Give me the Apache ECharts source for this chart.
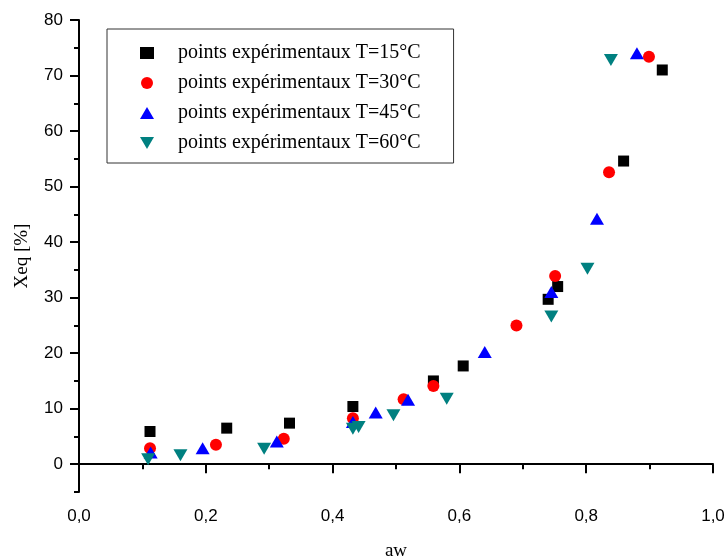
<!DOCTYPE html>
<html>
<head>
<meta charset="utf-8">
<script src="https://cdn.jsdelivr.net/npm/echarts@6/dist/echarts.min.js"></script>
<style>
html,body{margin:0;padding:0;background:#fff}
#chart{width:727px;height:558px}
</style>
</head>
<body>
<div id="chart"></div>
<script>
// valeurs
var aw15  = [0.112, 0.233, 0.332, 0.432, 0.559, 0.606, 0.740, 0.755, 0.859, 0.920];
var xeq15 = [5.9, 6.5, 7.4, 10.4, 15.0, 17.7, 29.7, 32.0, 54.6, 71.0];
var aw30  = [0.112, 0.216, 0.323, 0.432, 0.512, 0.559, 0.690, 0.751, 0.836, 0.899];
var xeq30 = [2.9, 3.5, 4.6, 8.3, 11.7, 14.1, 25.0, 33.9, 52.6, 73.4];
var aw45  = [0.113, 0.195, 0.312, 0.432, 0.468, 0.519, 0.640, 0.745, 0.817, 0.880];
var xeq45 = [2.1, 2.9, 4.1, 7.6, 9.3, 11.6, 20.2, 31.0, 44.2, 74.0];
var aw60  = [0.109, 0.160, 0.292, 0.432, 0.441, 0.496, 0.580, 0.745, 0.802, 0.839];
var xeq60 = [0.9, 1.6, 2.8, 6.4, 6.7, 8.8, 11.8, 26.6, 35.2, 72.8];

var seriesNames = ['points expérimentaux T=15°C', 'points expérimentaux T=30°C',
                   'points expérimentaux T=45°C', 'points expérimentaux T=60°C'];
var yTicks = [0, 10, 20, 30, 40, 50, 60, 70, 80];

function pairs(xs, ys) {
  return xs.map(function (x, i) { return [x, ys[i]]; });
}

// triangle pointe en bas (aussi pour la légende)
var downTri = 'path://M0,0 L14,0 L7,12 Z';

var chart = echarts.init(document.getElementById('chart'));
var axisCol = '#000';
chart.setOption({
  animation: false,
  backgroundColor: '#fff',
  grid: { left: 79, right: 14, top: 20, bottom: 66, containLabel: false, outerBoundsMode: 'none' },
  legend: {
    orient: 'vertical',
    left: 107,
    top: 29,
    padding: [14, 33, 10, 33],
    itemWidth: 14,
    itemHeight: 12,
    itemGap: 10,
    borderColor: '#333',
    borderWidth: 1,
    textStyle: {
      fontFamily: 'Liberation Serif',
      fontSize: 20,
      color: '#000',
      padding: [0, 0, 0, 19]
    },
    data: seriesNames
  },
  xAxis: {
    type: 'value',
    min: 0, max: 1, interval: 0.2,
    name: 'aw',
    nameLocation: 'middle',
    nameGap: 50,
    nameTextStyle: { fontFamily: 'Liberation Serif', fontSize: 19, color: '#000' },
    axisLine: { lineStyle: { color: axisCol, width: 2 } },
    axisTick: { length: 9, lineStyle: { color: axisCol, width: 2 } },
    minorTick: { show: true, splitNumber: 2, length: 5, lineStyle: { color: axisCol, width: 2 } },
    splitLine: { show: false },
    axisLabel: {
      margin: 16,
      fontFamily: 'Liberation Sans', fontSize: 17, color: '#000',
      formatter: function (v) { return v.toFixed(1).replace('.', ','); }
    }
  },
  yAxis: [{
    type: 'value',
    min: -5, max: 80,
    name: 'Xeq [%]',
    nameLocation: 'middle',
    nameRotate: 90,
    nameGap: 47,
    nameTextStyle: { fontFamily: 'Liberation Serif', fontSize: 19, color: '#000' },
    axisLine: { lineStyle: { color: axisCol, width: 2 } },
    axisTick: { customValues: yTicks, length: 9, lineStyle: { color: axisCol, width: 2 } },
    splitLine: { show: false },
    axisLabel: {
      customValues: yTicks,
      margin: 16,
      fontFamily: 'Liberation Sans', fontSize: 17, color: '#000'
    }
  }, {
    // petites graduations tous les 5
    type: 'value',
    position: 'left',
    min: -5, max: 80, interval: 5,
    axisLine: { show: false },
    axisTick: { length: 5, lineStyle: { color: axisCol, width: 2 } },
    axisLabel: { show: false },
    splitLine: { show: false }
  }],
  series: [
    { name: seriesNames[0], type: 'scatter', symbol: 'rect', symbolSize: 11,
      itemStyle: { color: '#000', opacity: 1 }, data: pairs(aw15, xeq15) },
    { name: seriesNames[1], type: 'scatter', symbol: 'circle', symbolSize: 12,
      itemStyle: { color: '#ff0000', opacity: 1 }, data: pairs(aw30, xeq30) },
    { name: seriesNames[2], type: 'scatter', symbol: 'triangle', symbolSize: [14, 12],
      itemStyle: { color: '#0000ff', opacity: 1 }, data: pairs(aw45, xeq45) },
    { name: seriesNames[3], type: 'scatter', symbol: downTri, symbolSize: [14, 12],
      itemStyle: { color: '#008080', opacity: 1 }, data: pairs(aw60, xeq60) }
  ]
});
</script>
</body>
</html>
